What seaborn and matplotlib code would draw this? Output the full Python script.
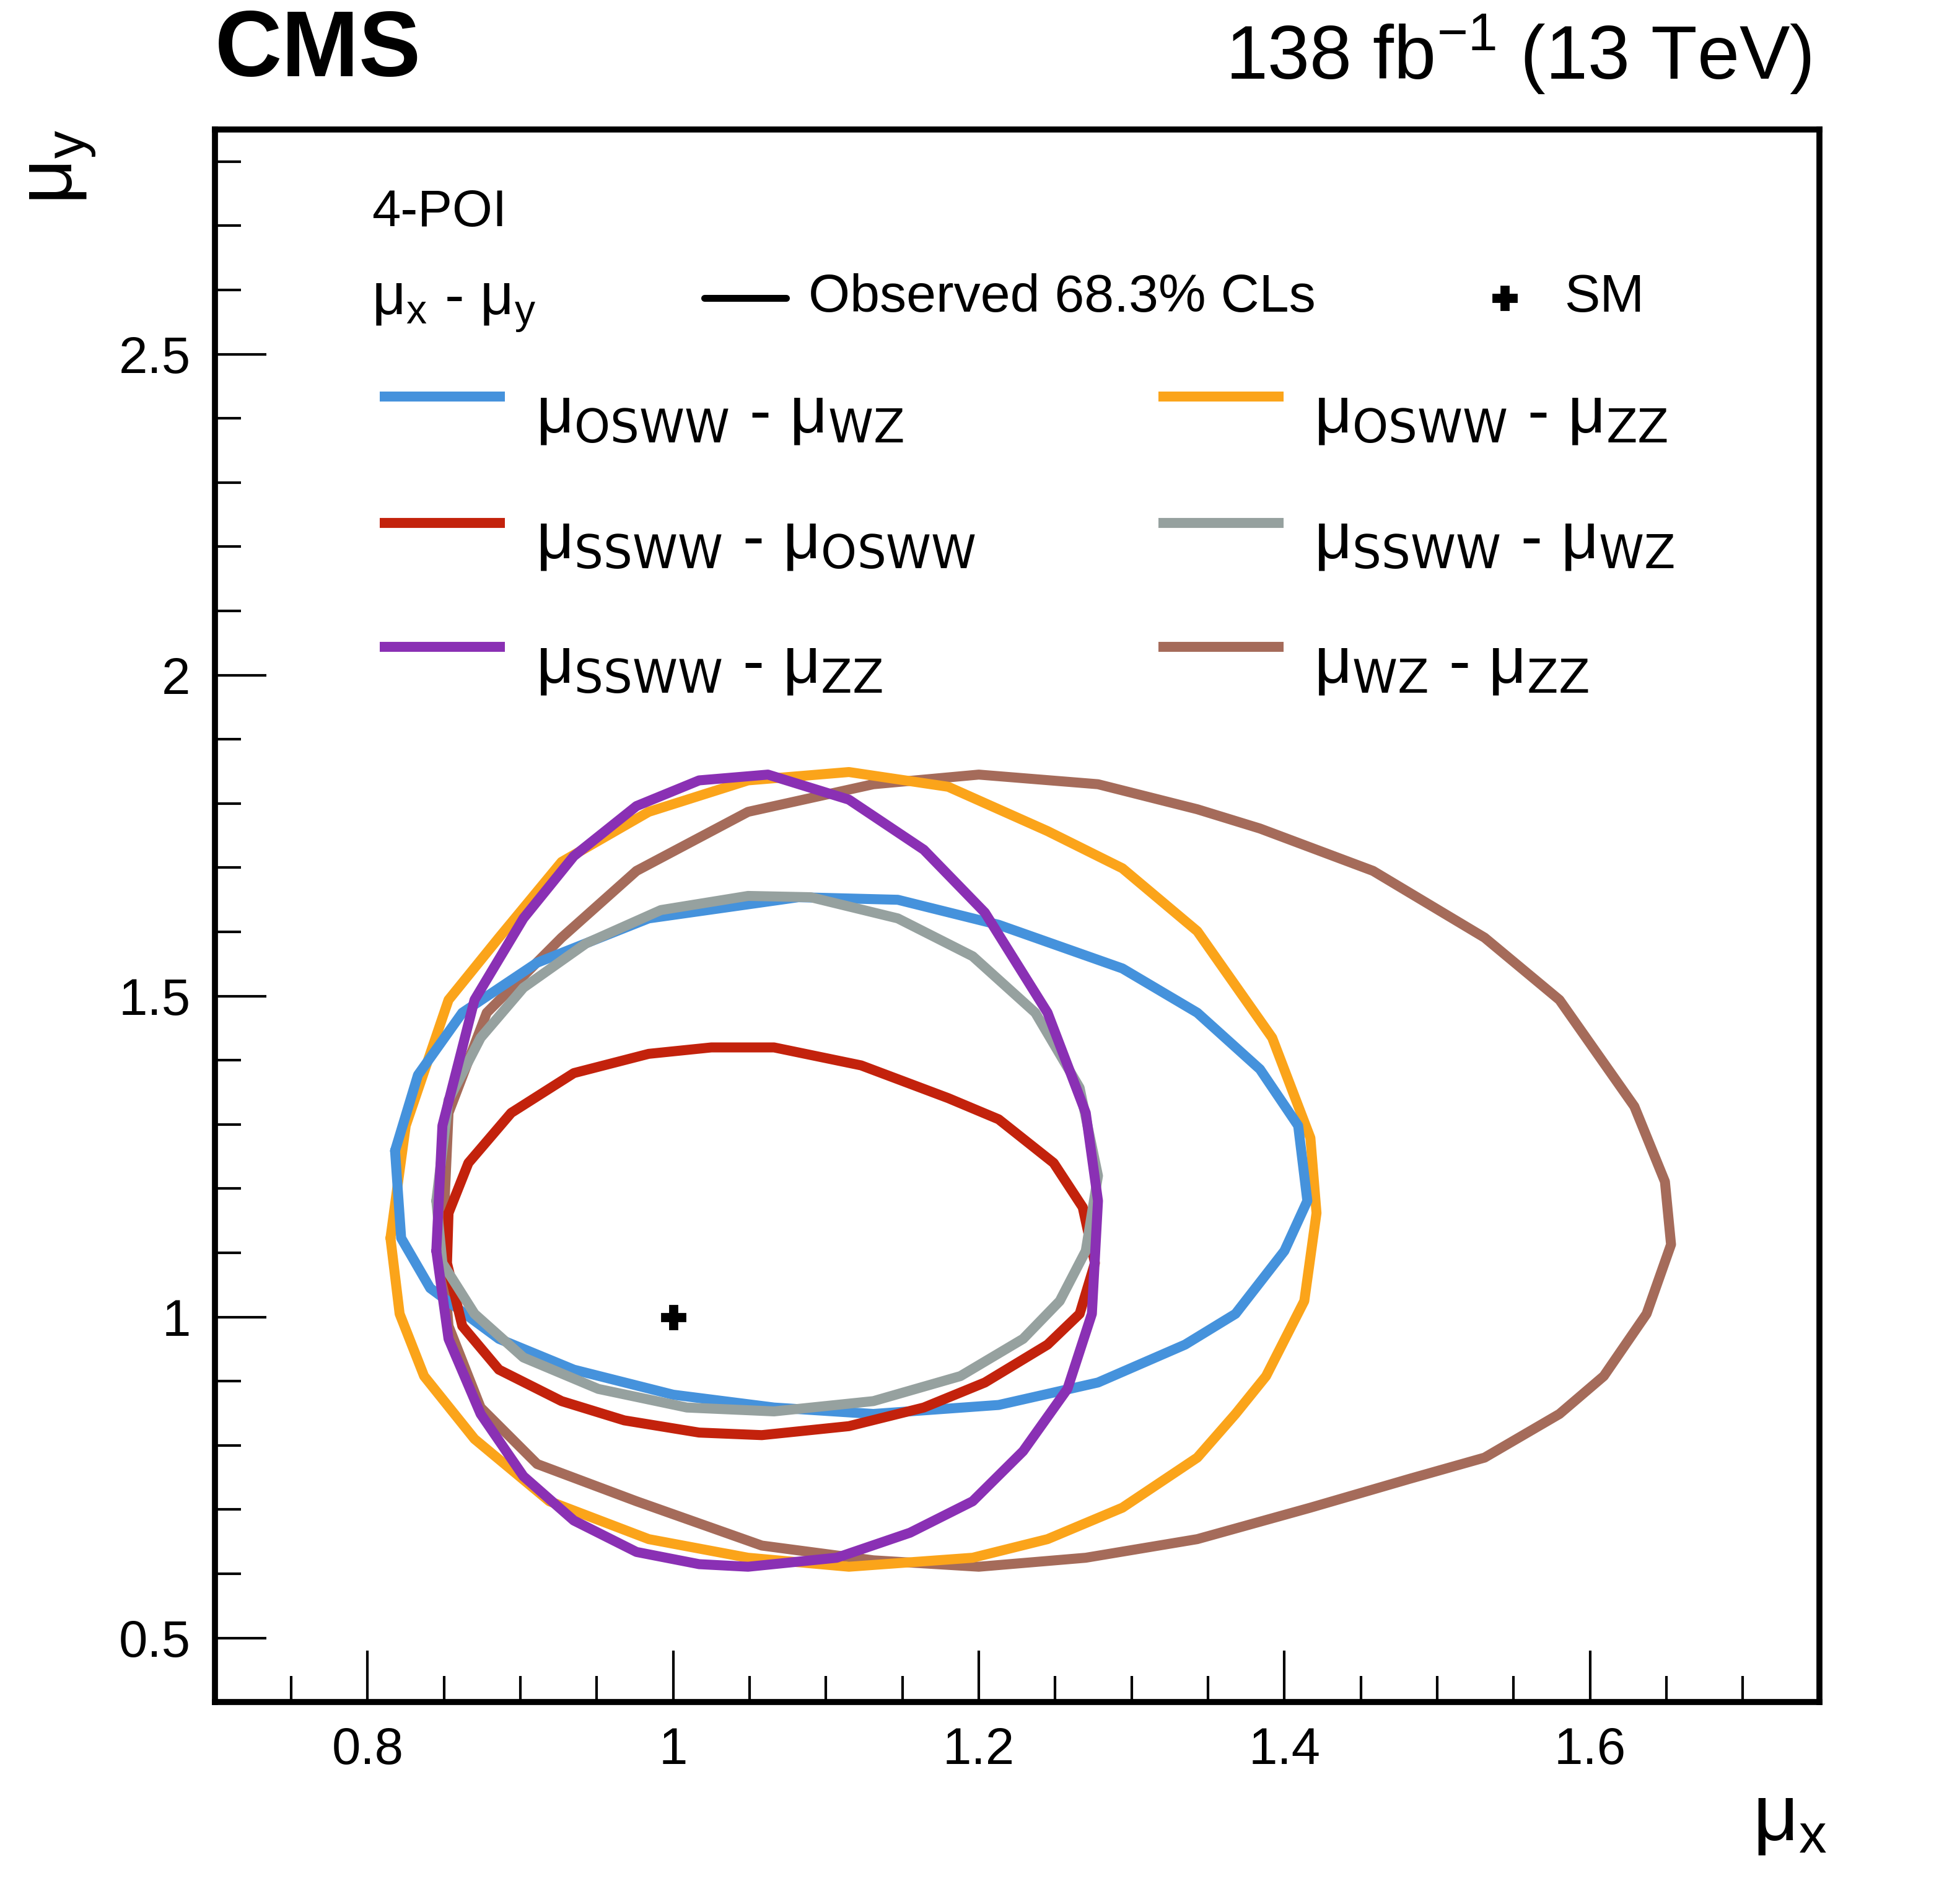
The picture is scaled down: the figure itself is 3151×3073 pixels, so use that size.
import numpy as np
import pandas as pd
import matplotlib.pyplot as plt
import matplotlib.ticker as mtick
import seaborn as sns

# contour points (closed polylines)
oswww_wz_x = [0.818, 0.833, 0.862, 0.911, 0.984, 1.082, 1.147, 1.213, 1.294, 1.343, 1.384, 1.409, 1.415,
              1.400, 1.368, 1.335, 1.278, 1.213, 1.131, 1.066, 1.000, 0.935, 0.886, 0.841, 0.822]
oswww_wz_y = [1.259, 1.377, 1.474, 1.552, 1.621, 1.654, 1.650, 1.611, 1.543, 1.474, 1.386, 1.298, 1.181,
              1.103, 1.005, 0.957, 0.898, 0.863, 0.849, 0.859, 0.879, 0.918, 0.966, 1.045, 1.123]

osww_zz_x = [0.815, 0.825, 0.853, 0.886, 0.927, 0.984, 1.049, 1.115, 1.180, 1.245, 1.294, 1.343, 1.392, 1.417,
             1.421, 1.413, 1.388, 1.368, 1.343, 1.294, 1.245, 1.196, 1.115, 1.049, 0.984, 0.919, 0.870, 0.837, 0.821]
osww_zz_y = [1.123, 1.298, 1.494, 1.591, 1.709, 1.787, 1.836, 1.849, 1.826, 1.757, 1.699, 1.601, 1.435, 1.279,
             1.162, 1.025, 0.908, 0.849, 0.781, 0.703, 0.654, 0.625, 0.611, 0.625, 0.654, 0.713, 0.810, 0.908, 1.005]

ssww_osww_x = [0.853, 0.866, 0.894, 0.935, 0.984, 1.025, 1.066, 1.123, 1.180, 1.213, 1.249, 1.268, 1.276,
               1.266, 1.245, 1.204, 1.164, 1.115, 1.058, 1.017, 0.968, 0.927, 0.886, 0.862, 0.852]
ssww_osww_y = [1.162, 1.240, 1.318, 1.380, 1.410, 1.420, 1.420, 1.392, 1.341, 1.308, 1.240, 1.171, 1.084,
               1.005, 0.957, 0.898, 0.859, 0.830, 0.816, 0.820, 0.839, 0.869, 0.918, 0.986, 1.084]

ssww_wz_x = [0.845, 0.853, 0.874, 0.902, 0.943, 0.992, 1.049, 1.090, 1.147, 1.196, 1.237, 1.266, 1.278,
             1.270, 1.253, 1.229, 1.188, 1.131, 1.066, 1.009, 0.951, 0.902, 0.870, 0.849]
ssww_wz_y = [1.181, 1.338, 1.435, 1.513, 1.582, 1.634, 1.656, 1.654, 1.621, 1.562, 1.474, 1.357, 1.220,
             1.103, 1.025, 0.966, 0.908, 0.869, 0.853, 0.859, 0.888, 0.937, 1.005, 1.084]

ssww_zz_x = [0.845, 0.849, 0.870, 0.902, 0.935, 0.976, 1.017, 1.062, 1.115, 1.164, 1.204, 1.245, 1.270, 1.278,
             1.274, 1.258, 1.229, 1.196, 1.155, 1.107, 1.049, 1.017, 0.976, 0.935, 0.902, 0.874, 0.853]
ssww_zz_y = [1.103, 1.298, 1.494, 1.621, 1.718, 1.796, 1.836, 1.845, 1.806, 1.728, 1.630, 1.474, 1.318, 1.181,
             1.005, 0.888, 0.791, 0.713, 0.664, 0.625, 0.611, 0.615, 0.634, 0.683, 0.752, 0.849, 0.966]

wz_zz_x = [0.849, 0.853, 0.878, 0.927, 0.976, 1.049, 1.131, 1.200, 1.278, 1.343, 1.384, 1.458, 1.531, 1.580,
           1.629, 1.649, 1.653, 1.637, 1.609, 1.580, 1.531, 1.482, 1.417, 1.343, 1.270, 1.200, 1.131, 1.058,
           0.976, 0.911, 0.874, 0.853]
wz_zz_y = [1.103, 1.318, 1.474, 1.591, 1.695, 1.787, 1.830, 1.845, 1.830, 1.791, 1.761, 1.695, 1.591, 1.494,
           1.328, 1.211, 1.113, 1.005, 0.908, 0.849, 0.781, 0.748, 0.703, 0.654, 0.625, 0.611, 0.621, 0.644,
           0.713, 0.771, 0.859, 0.986]

sm_x = [1.0]
sm_y = [1.0]

contours = [
    (('OSWW', 'WZ'), oswww_wz_x, oswww_wz_y, '#4592dc'),
    (('OSWW', 'ZZ'), osww_zz_x, osww_zz_y, '#fba41a'),
    (('SSWW', 'OSWW'), ssww_osww_x, ssww_osww_y, '#c3220c'),
    (('SSWW', 'WZ'), ssww_wz_x, ssww_wz_y, '#96a19f'),
    (('SSWW', 'ZZ'), ssww_zz_x, ssww_zz_y, '#8a30b4'),
    (('WZ', 'ZZ'), wz_zz_x, wz_zz_y, '#a56b5a'),
]

sns.set_style('ticks')
plt.rcParams['font.family'] = ['Liberation Sans', 'DejaVu Sans']
plt.rcParams['mathtext.default'] = 'regular'
plt.rcParams['text.color'] = 'black'
plt.rcParams['xtick.color'] = 'black'
plt.rcParams['ytick.color'] = 'black'
plt.rcParams['axes.edgecolor'] = 'black'

fig = plt.figure(figsize=(15.755, 15.365), dpi=200)
ax = fig.add_axes([0.110, 0.106, 0.822, 0.826])

lw = 5.8
for idx in [5, 1, 0, 2, 3, 4]:
    lab, xs, ys, col = contours[idx]
    df = pd.DataFrame({'x': xs + [xs[0]], 'y': ys + [ys[0]]})
    sns.lineplot(data=df, x='x', y='y', sort=False, estimator=None, color=col, linewidth=lw, ax=ax)

ax.plot(sm_x, sm_y, marker='P', color='black', markersize=14, linestyle='none')

ax.set_xlim(0.7, 1.75)
ax.set_ylim(0.4, 2.85)
ax.set_xlabel('')
ax.set_ylabel('')
ax.xaxis.set_major_locator(mtick.FixedLocator([0.8, 1.0, 1.2, 1.4, 1.6]))
ax.xaxis.set_major_formatter(mtick.FixedFormatter(['0.8', '1', '1.2', '1.4', '1.6']))
ax.xaxis.set_minor_locator(mtick.MultipleLocator(0.05))
ax.yaxis.set_major_locator(mtick.FixedLocator([0.5, 1.0, 1.5, 2.0, 2.5]))
ax.yaxis.set_major_formatter(mtick.FixedFormatter(['0.5', '1', '1.5', '2', '2.5']))
ax.yaxis.set_minor_locator(mtick.MultipleLocator(0.1))
ax.tick_params(which='both', direction='in', top=False, right=False, width=1.5, labelsize=30, pad=14)
ax.tick_params(which='major', length=30)
ax.tick_params(which='minor', length=15)
for sp in ax.spines.values():
    sp.set_linewidth(3.5)
    sp.set_visible(True)

fig.text(0.110, 0.950, 'CMS', fontsize=54, fontweight='bold', ha='left', va='bottom')
fig.text(0.928, 0.950, r'138 fb$^{-1}$ (13 TeV)', fontsize=44, ha='right', va='bottom')

tr = ax.transAxes


def mu_text(x, y, sub, size, trans, ha='left'):
    # mu with a ROOT-like lowered, large subscript
    t = ax.text(x, y, u'\u03bc', fontsize=size, transform=trans, va='baseline', ha=ha)
    return t


def mu_pair(x, y, a, b, size):
    # draw "mu_a - mu_b" as separate pieces for larger subscripts
    s = r'$\mu_{\mathrm{%s}}$ - $\mu_{\mathrm{%s}}$' % (a, b)
    ax.text(x, y, s, fontsize=size, transform=tr, va='center')


fig.text(0.936, 0.025, r'$\mu_{x}$', fontsize=46, ha='right', va='bottom')
fig.text(0.012, 0.932, r'$\mu_{y}$', fontsize=46, ha='left', va='top', rotation=90)

ax.text(0.098, 0.947, '4-POI', fontsize=30, transform=tr, va='center')
ax.text(0.098, 0.888, r'$\mu_{x}$ - $\mu_{y}$', fontsize=34, transform=tr, va='center')
ax.plot([0.305, 0.356], [0.893, 0.893], color='black', linewidth=4, transform=tr)
ax.text(0.370, 0.893, 'Observed 68.3% CLs', fontsize=31, transform=tr, va='center')
ax.plot([0.804], [0.893], marker='P', color='black', markersize=14, transform=tr)
ax.text(0.841, 0.893, 'SM', fontsize=31, transform=tr, va='center')

rows = [0.830, 0.750, 0.671]
for i, (lab, xs, ys, col) in enumerate(contours):
    r = rows[i // 2]
    x0 = 0.103 if i % 2 == 0 else 0.588
    ax.plot([x0, x0 + 0.078], [r, r], color=col, linewidth=lw, transform=tr, solid_capstyle='butt')
    mu_pair(x0 + 0.097, r - 0.012, lab[0], lab[1], 38)

fig.savefig('out.png', dpi=200)
